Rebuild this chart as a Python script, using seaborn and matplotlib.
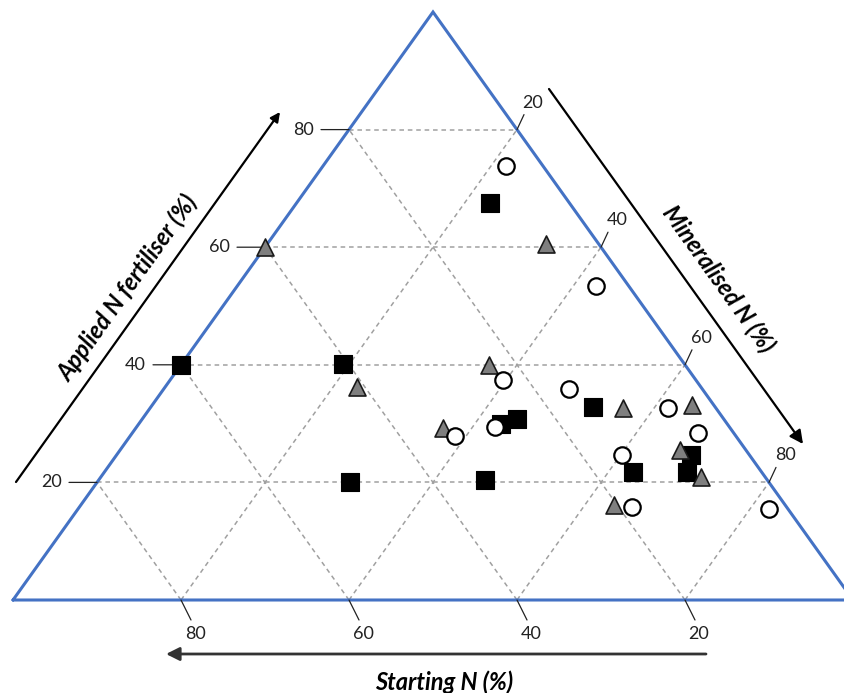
import numpy as np
import pandas as pd
import matplotlib.pyplot as plt
import seaborn as sns

# ── Style ──────────────────────────────────────────
sns.set_theme(style="white")
plt.rcParams['font.family'] = ['Lato', 'DejaVu Sans']

# ── Data (percent) ────────────────────────────────
# circles
circle_start   = [4.4, 3.9, 23.0, 15.9, 33.4, 27.9, 5.7, 4.3, 15.1, 18.4, 2.3]
circle_applied = [73.8, 53.4, 37.4, 35.9, 27.9, 29.4, 32.7, 28.4, 24.7, 15.8, 15.5]
circle_mineral = [21.8, 42.7, 39.6, 48.2, 38.7, 42.7, 61.6, 67.3, 60.2, 65.8, 82.2]

# squares
square_start   = [9.5, 60.0, 40.7, 24.6, 26.9, 14.6, 49.8, 33.6, 15.3, 6.9, 8.9]
square_applied = [67.5, 40.0, 40.1, 30.8, 29.9, 32.8, 20.1, 20.4, 21.8, 24.7, 21.8]
square_mineral = [23.0, 0.0, 19.2, 44.6, 43.2, 52.6, 30.1, 46.0, 62.9, 68.4, 69.3]

# triangles
tri_start   = [40.0, 6.3, 23.3, 40.9, 34.2, 11.0, 2.6, 7.9, 7.7, 20.4]
tri_applied = [60.0, 60.5, 40.0, 36.2, 29.3, 32.7, 33.2, 25.5, 20.9, 16.2]
tri_mineral = [0.0, 33.2, 36.7, 22.9, 36.5, 56.3, 64.2, 66.6, 71.4, 63.4]

grid_levels = [20, 40, 60, 80]


def to_xy(start, applied, mineral):
    """ternary (%) -> cartesian: applied at top, mineralised at right"""
    s = np.asarray(start, float)
    a = np.asarray(applied, float)
    m = np.asarray(mineral, float)
    tot = s + a + m
    a, m = a / tot, m / tot
    return m + a / 2, a


def group_df(start, applied, mineral):
    x, y = to_xy(start, applied, mineral)
    return pd.DataFrame({'x': x, 'y': y})


W, H = 844, 693
fig = plt.figure(figsize=(W / 100, H / 100), dpi=100)
ax = fig.add_axes([0, 0, 1, 1])
ax.set_xlim(-13 / 840, 831 / 840)
ax.set_ylim((600 - 693) / 588, 600 / 588)
ax.axis('off')

# ── Grid lines ──────────────────────────────────────
grid_kw = dict(color='#a0a0a0', lw=1.1, ls=(0, (3, 2.5)), zorder=1)
for v in grid_levels:
    r = 100 - v
    # constant applied
    x, y = to_xy([r, 0], [v, v], [0, r])
    ax.plot(x, y, **grid_kw)
    # constant mineralised
    x, y = to_xy([r, 0], [0, r], [v, v])
    ax.plot(x, y, **grid_kw)
    # constant starting
    x, y = to_xy([v, v], [0, r], [r, 0])
    ax.plot(x, y, **grid_kw)

# ── Triangle outline ────────────────────────────────
x, y = to_xy([100, 0, 0, 100], [0, 100, 0, 0], [0, 0, 100, 0])
ax.plot(x, y, color='#4472c4', lw=2.2, zorder=2, solid_joinstyle='miter')

# ── Tick marks and labels ───────────────────────────
tick_kw = dict(arrowstyle='-', lw=0.9, color='#222222', shrinkA=0, shrinkB=0)
for v in grid_levels:
    r = 100 - v
    # applied (left edge)
    p = to_xy([r], [v], [0])
    p = (p[0][0], p[1][0])
    ax.annotate('', xy=p, xytext=(-28, 0), textcoords='offset pixels', arrowprops=tick_kw)
    ax.annotate(str(v), xy=p, xytext=(-35, 0), textcoords='offset pixels',
                ha='right', va='center', fontsize=13, color='#222222')
    # mineralised (right edge)
    p = to_xy([0], [r], [v])
    p = (p[0][0], p[1][0])
    ax.annotate('', xy=p, xytext=(7, 15), textcoords='offset pixels', arrowprops=tick_kw)
    ax.annotate(str(v), xy=p, xytext=(16, 27), textcoords='offset pixels',
                ha='center', va='center', fontsize=13, color='#222222')
    # starting (bottom edge)
    p = to_xy([v], [0], [r])
    p = (p[0][0], p[1][0])
    ax.annotate('', xy=p, xytext=(10, -20), textcoords='offset pixels', arrowprops=tick_kw)
    ax.annotate(str(v), xy=p, xytext=(14, -34), textcoords='offset pixels',
                ha='center', va='center', fontsize=13, color='#222222')

# ── Data points ─────────────────────────────────────
sq = group_df(square_start, square_applied, square_mineral)
tr = group_df(tri_start, tri_applied, tri_mineral)
ci = group_df(circle_start, circle_applied, circle_mineral)

sns.scatterplot(data=sq, x='x', y='y', marker='s', s=160, color='black',
                edgecolor='black', linewidth=0.8, ax=ax, zorder=3)
sns.scatterplot(data=tr, x='x', y='y', marker='^', s=150, color='#7f7f7f',
                edgecolor='#1a1a1a', linewidth=1.2, ax=ax, zorder=4)
sns.scatterplot(data=ci, x='x', y='y', marker='o', s=140, color='white',
                edgecolor='black', linewidth=1.6, ax=ax, zorder=5)

# ── Axis arrows and titles ──────────────────────────
def fp(x, y):
    return (x, H - y)

arrow_kw = dict(arrowstyle='-|>', lw=1.6, color='black', shrinkA=0, shrinkB=0)
ax.annotate('', xy=fp(280, 112), xytext=fp(16, 482), xycoords='figure pixels',
            textcoords='figure pixels', arrowprops=dict(arrow_kw, mutation_scale=14))
ax.annotate('', xy=fp(803, 444), xytext=fp(549, 89), xycoords='figure pixels',
            textcoords='figure pixels', arrowprops=dict(arrow_kw, mutation_scale=20))
ax.annotate('', xy=fp(166, 654), xytext=fp(706, 654), xycoords='figure pixels',
            textcoords='figure pixels',
            arrowprops=dict(arrow_kw, color='#333333', lw=2.0, mutation_scale=20))

label_kw = dict(fontsize=17, fontweight='bold', fontstyle='italic', color='black',
                ha='center', va='center', rotation_mode='anchor')
fig.text(128 / W, 1 - 288 / H, 'Applied N fertiliser (%)', rotation=54.4, **label_kw)
fig.text(718 / W, 1 - 279 / H, 'Mineralised N (%)', rotation=-54.4, **label_kw)
fig.text(444 / W, 1 - 682 / H, 'Starting N (%)', **label_kw)

plt.savefig('out.png', dpi=100)
